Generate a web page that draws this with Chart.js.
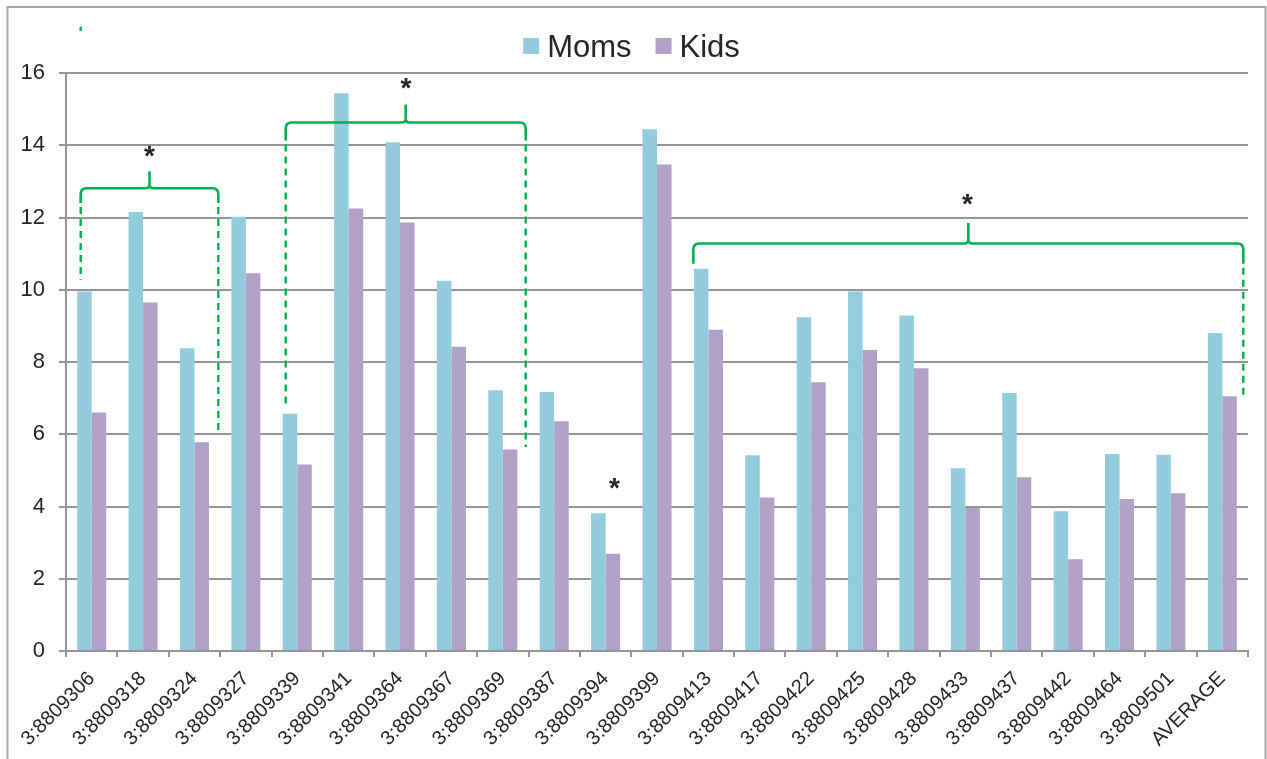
<!DOCTYPE html>
<html>
<head>
<meta charset="utf-8">
<script src="https://cdn.jsdelivr.net/npm/chart.js@4/dist/chart.umd.min.js"></script>
<style>
  html, body { margin: 0; padding: 0; background: #fff; }
  canvas { display: block; }
</style>
</head>
<body>
<canvas id="chart" width="1267" height="759"></canvas>
<script>
// Sample identifiers along the x axis
const categories = [
  '3:8809306', '3:8809318', '3:8809324', '3:8809327', '3:8809339', '3:8809341',
  '3:8809364', '3:8809367', '3:8809369', '3:8809387', '3:8809394', '3:8809399',
  '3:8809413', '3:8809417', '3:8809422', '3:8809425', '3:8809428', '3:8809433',
  '3:8809437', '3:8809442', '3:8809464', '3:8809501', 'AVERAGE'
];

// Series values
const moms = [9.95, 12.15, 8.38, 12.02, 6.57, 15.44, 14.08, 10.25, 7.22, 7.17, 3.81, 14.44,
              10.58, 5.42, 9.24, 9.95, 9.29, 5.06, 7.14, 3.87, 5.45, 5.43, 8.80];
const kids = [6.60, 9.65, 5.78, 10.46, 5.16, 12.25, 11.86, 8.42, 5.58, 6.36, 2.69, 13.47,
              8.89, 4.25, 7.44, 8.33, 7.83, 3.96, 4.81, 2.54, 4.21, 4.37, 7.05];

// Value axis tick labels
const yTicks = [0, 2, 4, 6, 8, 10, 12, 14, 16];

// Significance groups: braces spanning category positions, in axis units
const braces = [
  { from: -0.214, to: 2.464,  level: 12.81, tip: 13.28, foot: 12.40, leftDrop: 10.28, rightDrop: 6.07 },
  { from: 3.775,  to: 8.445,  level: 14.63, tip: 15.13, foot: 14.13, leftDrop: 6.72,  rightDrop: 5.65 },
  { from: 11.707, to: 22.409, level: 11.28, tip: 11.85, foot: 10.72, leftDrop: null,  rightDrop: 7.09 }
];
// Significance markers (category position, value)
const stars = [
  { at: 1.125,  value: 13.83 },
  { at: 6.116,  value: 15.71 },
  { at: 10.17,  value: 4.64 },
  { at: 17.04,  value: 12.51 }
];
// Short stray dash above the first group
const strayDash = { at: -0.214, from: 17.28, to: 17.16 };

const FONT = '"Liberation Sans", Arial, Helvetica, sans-serif';
const MOMS_COLOR = '#93CDDD';
const KIDS_COLOR = '#B3A2C7';
const GRID_COLOR = '#959595';
const TEXT_COLOR = '#262626';
const GREEN = '#00B050';

Chart.defaults.font.family = FONT;

const framePlugin = {
  id: 'frame',
  beforeDraw(chart) {
    const ctx = chart.ctx;
    ctx.save();
    ctx.fillStyle = '#ffffff';
    ctx.fillRect(0, 0, chart.width, chart.height);
    ctx.restore();
  },
  afterDraw(chart) {
    const ctx = chart.ctx;
    ctx.save();
    ctx.strokeStyle = '#a8a8a8';
    ctx.lineWidth = 2;
    ctx.strokeRect(7.5, 7, chart.width - 8.5 - 0.5, chart.height + 40);
    ctx.restore();
  }
};

const annotationPlugin = {
  id: 'groups',
  afterDatasetsDraw(chart) {
    const ctx = chart.ctx;
    const xs = chart.scales.x, ys = chart.scales.y;
    const px = v => xs.getPixelForValue(v);
    const py = v => ys.getPixelForValue(v);
    ctx.save();
    ctx.strokeStyle = GREEN;
    ctx.lineJoin = 'round';
    ctx.lineCap = 'butt';

    braces.forEach(b => {
      const x1 = px(b.from), x2 = px(b.to), xc = (x1 + x2) / 2;
      const yl = py(b.level), yt = py(b.tip), yf = py(b.foot);
      const r = 6, rt = 4;
      ctx.setLineDash([]);
      ctx.lineWidth = 2.6;
      ctx.beginPath();
      ctx.moveTo(x1, yf);
      ctx.lineTo(x1, yl + r);
      ctx.quadraticCurveTo(x1, yl, x1 + r, yl);
      ctx.lineTo(xc - rt, yl);
      ctx.quadraticCurveTo(xc, yl, xc, yl - rt);
      ctx.lineTo(xc, yt);
      ctx.moveTo(xc, yl - rt);
      ctx.quadraticCurveTo(xc, yl, xc + rt, yl);
      ctx.lineTo(x2 - r, yl);
      ctx.quadraticCurveTo(x2, yl, x2, yl + r);
      ctx.lineTo(x2, yf);
      ctx.stroke();

      ctx.setLineDash([7, 5]);
      ctx.lineWidth = 2.4;
      if (b.leftDrop !== null) {
        ctx.beginPath();
        ctx.moveTo(x1, yf + 4);
        ctx.lineTo(x1, py(b.leftDrop));
        ctx.stroke();
      }
      if (b.rightDrop !== null) {
        ctx.beginPath();
        ctx.moveTo(x2, yf + 4);
        ctx.lineTo(x2, py(b.rightDrop));
        ctx.stroke();
      }
    });

    ctx.setLineDash([]);
    ctx.lineWidth = 2.4;
    ctx.beginPath();
    ctx.moveTo(px(strayDash.at), py(strayDash.from));
    ctx.lineTo(px(strayDash.at), py(strayDash.to));
    ctx.stroke();

    ctx.fillStyle = TEXT_COLOR;
    ctx.font = 'bold 28px ' + FONT;
    ctx.textAlign = 'center';
    ctx.textBaseline = 'alphabetic';
    const m = ctx.measureText('*');
    const shift = (m.actualBoundingBoxAscent - m.actualBoundingBoxDescent) / 2;
    stars.forEach(s => {
      ctx.fillText('*', px(s.at), py(s.value) + shift);
    });
    ctx.restore();
  }
};

const legendPlugin = {
  id: 'topLegend',
  afterDraw(chart) {
    const ctx = chart.ctx;
    const items = chart.data.datasets.map(d => ({ text: d.label, color: d.backgroundColor }));
    ctx.save();
    ctx.font = '31px ' + FONT;
    const box = 16, gap = 8, spacing = 24;
    const widths = items.map(it => box + gap + ctx.measureText(it.text).width);
    const total = widths.reduce((a, b) => a + b, 0) + spacing * (items.length - 1);
    let x = chart.width / 2 - 2 - total / 2;
    const cy = 46;
    ctx.textBaseline = 'alphabetic';
    ctx.textAlign = 'left';
    items.forEach((it, i) => {
      ctx.fillStyle = it.color;
      ctx.fillRect(x, cy - box / 2, box, box);
      ctx.fillStyle = TEXT_COLOR;
      ctx.fillText(it.text, x + box + gap, 57);
      x += widths[i] + spacing;
    });
    ctx.restore();
  }
};

new Chart(document.getElementById('chart'), {
  type: 'bar',
  data: {
    labels: categories,
    datasets: [
      { label: 'Moms', data: moms, backgroundColor: MOMS_COLOR, categoryPercentage: 0.565, barPercentage: 1.0 },
      { label: 'Kids', data: kids, backgroundColor: KIDS_COLOR, categoryPercentage: 0.565, barPercentage: 1.0 }
    ]
  },
  options: {
    responsive: false,
    animation: false,
    devicePixelRatio: 1,
    layout: { padding: { top: 73, right: 19, left: 0, bottom: 0 } },
    plugins: { legend: { display: false }, tooltip: { enabled: false } },
    scales: {
      x: {
        offset: true,
        grid: { display: true, drawOnChartArea: false, drawTicks: true, tickLength: 6, color: GRID_COLOR, lineWidth: 2, offset: true },
        border: { display: true, color: GRID_COLOR, width: 2 },
        ticks: {
          autoSkip: false, minRotation: 45, maxRotation: 45, padding: 10,
          color: TEXT_COLOR, font: { size: 20, family: FONT }
        },
        afterFit(scale) { scale.height = 108; }
      },
      y: {
        min: 0, max: 16,
        grid: { color: GRID_COLOR, lineWidth: 2, tickLength: 7 },
        border: { display: true, color: GRID_COLOR, width: 2 },
        ticks: { padding: 14, color: TEXT_COLOR, font: { size: 22, family: FONT } },
        afterFit(scale) { scale.width = 66; },
        afterBuildTicks(scale) { scale.ticks = yTicks.map(v => ({ value: v })); }
      }
    }
  },
  plugins: [framePlugin, annotationPlugin, legendPlugin]
});
</script>
</body>
</html>
